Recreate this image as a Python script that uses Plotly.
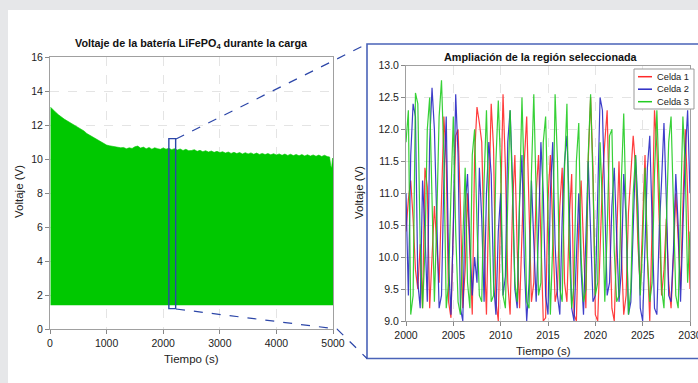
import plotly.graph_objects as go

W, H = 698, 383

# ---- Overview: charge voltage envelope of the LiFePO4 pack ----
env_t = [10, 50, 100, 150, 200, 250, 300, 350, 400, 450, 500, 550, 600, 650, 700, 750, 800,
         850, 900, 950, 1000, 1050, 1100, 1150, 1200, 1250, 1300, 1350, 1400, 1450, 1500,
         1550, 1600, 1650, 1700, 1750, 1800, 1850, 1900, 1950, 2000, 2050, 2100, 2150, 2200,
         2250, 2300, 2350, 2400, 2450, 2500, 2550, 2600, 2650, 2700, 2750, 2800, 2850, 2900,
         2950, 3000, 3050, 3100, 3150, 3200, 3250, 3300, 3350, 3400, 3450, 3500, 3550, 3600,
         3650, 3700, 3750, 3800, 3850, 3900, 3950, 4000, 4050, 4100, 4150, 4200, 4250, 4300,
         4350, 4400, 4450, 4500, 4550, 4600, 4650, 4700, 4750, 4800, 4850, 4900, 4940, 4960,
         4975, 4985, 4992, 5000]
env_hi = [13.05, 12.9, 12.75, 12.6, 12.45, 12.35, 12.25, 12.15, 12.05, 11.97, 11.88, 11.78,
          11.65, 11.5, 11.4, 11.3, 11.18, 11.08, 10.98, 10.9, 10.82, 10.78, 10.74, 10.72, 10.7,
          10.66, 10.68, 10.6, 10.66, 10.62, 10.72, 10.76, 10.64, 10.7, 10.6, 10.68, 10.58,
          10.66, 10.61, 10.57, 10.65, 10.58, 10.63, 10.55, 10.61, 10.53, 10.59, 10.5, 10.57,
          10.49, 10.5, 10.55, 10.45, 10.51, 10.43, 10.49, 10.41, 10.47, 10.39, 10.45, 10.38,
          10.43, 10.35, 10.41, 10.33, 10.39, 10.32, 10.38, 10.3, 10.37, 10.3, 10.36, 10.28,
          10.35, 10.27, 10.33, 10.26, 10.32, 10.25, 10.31, 10.24, 10.3, 10.22, 10.29, 10.21,
          10.28, 10.2, 10.27, 10.19, 10.26, 10.18, 10.25, 10.17, 10.24, 10.16, 10.23, 10.15,
          10.22, 10.14, 10.12, 9.6, 9.45, 9.8, 10.05, 10.0]
env_lo = [1.4] * len(env_t)

# zoomed window on the overview
sel_t = [2100, 2220]
sel_v = [1.2, 11.2]

# ---- Zoom: individual cell voltages, 2000-2030 s ----
t_zoom = [2000 + 0.25 * i for i in range(121)]
celda1 = [10.4, 10.9, 11.2, 10.6, 9.8, 9.5, 10.2, 9.2,
          11.4, 11.1, 9.2, 10.0, 10.8, 10.2, 9.6, 10.9,
          12.2, 11.5, 9.3, 9.05, 10.4, 11.9, 12.0, 10.8,
          9.2, 9.8, 11.0, 10.1, 9.1, 11.6, 12.35, 12.1,
          11.8, 10.2, 9.1, 10.9, 12.4, 11.7, 9.3, 9.0,
          10.6, 12.55, 11.4, 9.6, 9.1, 10.8, 11.6, 10.1,
          9.2, 10.4, 11.5, 12.2, 10.6, 9.3, 9.6, 11.0,
          11.6, 10.3, 9.0, 9.05, 10.9, 11.6, 10.5, 9.3,
          9.5, 10.8, 11.4, 9.6, 9.3, 10.6, 11.3, 9.1,
          9.0, 10.5, 11.2, 10.3, 9.2, 11.5, 12.5, 11.4,
          9.1, 9.0, 10.2, 11.2, 11.8, 12.3, 10.6, 9.2,
          9.0, 10.4, 11.5, 10.1, 9.1, 9.4, 10.7, 11.3,
          11.9, 11.4, 10.2, 9.5, 10.6, 11.6, 10.0, 9.0,
          10.5, 12.3, 11.7, 10.4, 9.4, 9.8, 10.6, 9.6,
          9.2, 10.0, 11.0, 10.3, 9.5, 10.8, 12.0, 11.0, 9.5]
celda2 = [11.0, 9.4, 11.6, 12.4, 12.2, 9.6, 9.2, 11.2,
          10.4, 9.3, 11.8, 12.65, 12.0, 10.5, 9.2, 9.4,
          11.2, 12.2, 9.9, 9.1, 10.5, 12.55, 11.6, 9.2,
          9.0, 10.8, 11.3, 10.2, 9.4, 10.0, 9.6, 11.4,
          10.6, 9.3, 11.0, 11.8, 11.3, 9.6, 9.1, 10.4,
          11.0, 9.4, 9.7, 11.8, 12.3, 11.2, 9.5, 9.2,
          10.9, 11.6, 9.9, 9.0, 9.6, 11.2, 10.3, 9.3,
          10.4, 11.8, 11.0, 9.4, 9.1, 11.0, 11.8, 10.2,
          9.4, 9.1, 10.6, 11.5, 11.9, 10.8, 9.2, 9.0,
          10.0, 11.0, 9.8, 9.1, 10.3, 11.5, 10.4, 9.3,
          9.4, 11.2, 12.5, 12.3, 10.9, 9.4, 9.6, 10.8,
          11.4, 10.4, 9.3, 9.8, 11.3, 10.6, 9.1, 9.3,
          10.6, 11.6, 10.8, 9.2, 9.0, 10.3, 11.4, 11.9,
          10.5, 9.2, 9.1, 10.4, 11.2, 12.1, 10.9, 9.4,
          9.3, 10.1, 11.3, 10.5, 9.3, 10.4, 11.6, 12.3, 11.0]
celda3 = [11.8, 12.3, 9.1, 9.4, 12.57, 12.4, 10.2, 9.2,
          10.1, 12.0, 12.5, 11.0, 9.3, 10.6, 12.2, 12.77,
          11.6, 9.2, 9.6, 11.0, 12.2, 10.4, 9.3, 9.1,
          10.2, 11.4, 9.6, 9.2, 11.6, 12.0, 10.5, 9.4,
          9.3, 11.2, 12.3, 11.0, 9.3, 9.4, 11.5, 12.45,
          11.4, 9.4, 9.2, 10.9, 12.3, 11.0, 9.6, 9.3,
          10.8, 12.5, 11.1, 9.3, 9.2, 11.3, 12.55, 11.0,
          9.4, 9.6, 11.8, 12.2, 10.6, 9.1, 10.2, 12.55,
          11.5, 9.5, 9.3, 11.4, 12.4, 10.1, 9.2, 9.6,
          11.5, 12.1, 10.0, 9.3, 9.5, 11.6, 12.55, 11.2,
          9.4, 9.6, 11.8, 10.8, 9.3, 10.4, 11.9, 12.0,
          10.1, 9.3, 9.4, 11.2, 12.25, 10.6, 9.1, 9.5,
          11.0, 11.6, 10.4, 9.4, 10.2, 11.4, 10.0, 9.3,
          9.6, 11.3, 12.3, 11.1, 9.5, 9.2, 10.5, 11.8,
          12.2, 10.6, 9.4, 9.2, 10.8, 12.2, 11.4, 9.6, 10.4]

series_names = ["Celda 1", "Celda 2", "Celda 3"]
series_colors = ["#ff2a2a", "#2b2bc4", "#22cc22"]
series_values = [celda1, celda2, celda3]

FONT = "Liberation Sans, Arial, sans-serif"
BOX_BLUE = "#2c46a8"


def px(x):
    return x / W


def py(y):
    return 1 - y / H


fig = go.Figure()

# overview band (lower edge, then upper edge filled down to it)
fig.add_trace(go.Scatter(x=env_t, y=env_lo, mode="lines", line=dict(width=0, color="#00c800"),
                         xaxis="x", yaxis="y", showlegend=False, hoverinfo="skip"))
fig.add_trace(go.Scatter(x=env_t, y=env_hi, mode="lines", line=dict(width=0.6, color="#00c800"),
                         fill="tonexty", fillcolor="#00c800",
                         xaxis="x", yaxis="y", showlegend=False))

# zoomed cell traces
for name, col, vals in zip(series_names, series_colors, series_values):
    fig.add_trace(go.Scatter(x=t_zoom, y=vals, mode="lines", name=name,
                             line=dict(width=1.2, color=col), opacity=0.9,
                             xaxis="x2", yaxis="y2", showlegend=False))

axis_common = dict(
    showline=True, linecolor="#a0a0a0", linewidth=1, mirror=True,
    ticks="outside", ticklen=4, tickcolor="#888888",
    showgrid=True, gridcolor="#e4e4e4", griddash="dash", gridwidth=1,
    zeroline=False, automargin=False, ticklabeloverflow="allow",
    tickfont=dict(family=FONT, size=10.5, color="#222222"),
)

fig.update_layout(
    template="none",
    width=W, height=H,
    margin=dict(l=0, r=0, t=0, b=0, pad=0),
    paper_bgcolor="#e6e7e9", plot_bgcolor="white",
    xaxis=dict(domain=[px(50), px(333)], range=[0, 5000], tickvals=[0, 1000, 2000, 3000, 4000, 5000],
               anchor="y", **axis_common),
    yaxis=dict(domain=[py(329), py(57)], range=[0, 16], dtick=2, anchor="x", **axis_common),
    xaxis2=dict(domain=[px(406), px(690)], range=[2000, 2030], dtick=5, anchor="y2", **axis_common),
    yaxis2=dict(domain=[py(321), py(65.5)], range=[9, 13], dtick=0.5, tickformat=".1f",
                anchor="x2", **axis_common),
)

shapes = [
    # white canvas
    dict(type="rect", xref="paper", yref="paper", x0=px(8), x1=1.0, y0=0, y1=py(10),
         fillcolor="white", line=dict(width=0), layer="below"),
    # selection box on the overview
    dict(type="rect", xref="x", yref="y", x0=sel_t[0], x1=sel_t[1], y0=sel_v[0], y1=sel_v[1],
         line=dict(color=BOX_BLUE, width=1.4)),
    # frame around the zoom panel
    dict(type="rect", xref="paper", yref="paper", x0=px(367), x1=px(705), y0=py(358.5), y1=py(44),
         line=dict(color="#4a63b8", width=1.6)),
    # dashed connectors
    dict(type="line", xref="paper", yref="paper", x0=px(176), y0=py(139), x1=px(367), y1=py(44),
         line=dict(color=BOX_BLUE, width=1.2, dash="dash")),
    dict(type="path", xref="paper", yref="paper",
         path=f"M {px(176)},{py(309)} L {px(337)},{py(329)} L {px(367)},{py(358.5)}",
         line=dict(color=BOX_BLUE, width=1.2, dash="dash")),
    # legend box
    dict(type="rect", xref="paper", yref="paper", x0=px(634), x1=px(694), y0=py(109), y1=py(69),
         fillcolor="white", line=dict(color="#999999", width=1)),
]

annotations = [
    dict(text="<b>Voltaje de la batería LiFePO<sub>4</sub> durante la carga</b>", x=px(191), y=py(44),
         font=dict(family=FONT, size=10.8, color="#111111")),
    dict(text="<b>Ampliación de la región seleccionada</b>", x=px(541), y=py(57),
         font=dict(family=FONT, size=10.8, color="#111111")),
    dict(text="Tiempo (s)", x=px(191), y=py(359), font=dict(family=FONT, size=11.5, color="#222222")),
    dict(text="Tiempo (s)", x=px(543), y=py(351), font=dict(family=FONT, size=11.5, color="#222222")),
    dict(text="Voltaje (V)", x=px(19), y=py(192), textangle=-90,
         font=dict(family=FONT, size=11.5, color="#222222")),
    dict(text="Voltaje (V)", x=px(359), y=py(193), textangle=-90,
         font=dict(family=FONT, size=11.5, color="#222222")),
]

# legend entries
for k, (name, col) in enumerate(zip(series_names, series_colors)):
    yy = 76.7 + 12.5 * k
    shapes.append(dict(type="line", xref="paper", yref="paper", x0=px(638), x1=px(652),
                       y0=py(yy), y1=py(yy), line=dict(color=col, width=1.5)))
    annotations.append(dict(text=name, x=px(655), y=py(yy), xanchor="left",
                            font=dict(family=FONT, size=9.3, color="#222222")))

for a in annotations:
    a.update(xref="paper", yref="paper", showarrow=False)
    a.setdefault("xanchor", "center")
    a.setdefault("yanchor", "middle")

fig.update_layout(shapes=shapes, annotations=annotations)

fig.write_html("out.html")
